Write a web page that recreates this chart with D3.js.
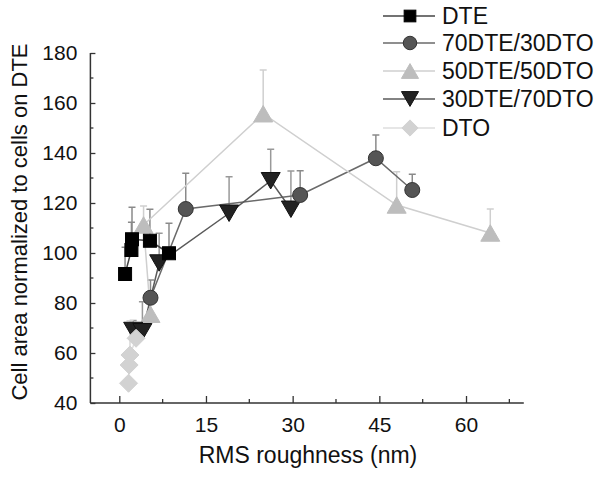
<!DOCTYPE html>
<html><head><meta charset="utf-8">
<script src="https://cdn.jsdelivr.net/npm/d3@7"></script>
<style>body{margin:0;background:#fff}svg{display:block}text{font-family:"Liberation Sans",Arial,sans-serif}</style>
</head><body><div id="c"></div>
<script>
// Data (x = RMS roughness nm, y = normalized cell area, e = top of error bar)
const seriesNames = ["DTE","70DTE/30DTO","50DTE/50DTO","30DTE/70DTO","DTO"];
const dteX = [1.0, 2.1, 2.2, 5.3, 8.6];
const dteY = [91.6, 101.2, 105.5, 104.9, 99.9];
const dteE = [102.3, 112.3, 118.3, 117.5, 111.9];
const s70X = [5.4, 11.5, 31.3, 44.4, 50.7];
const s70Y = [82.1, 117.6, 123.2, 137.9, 125.2];
const s70E = [89.2, 131.9, 132.9, 147.2, 131.5];
const s50X = [5.4, 4.2, 24.9, 48.0, 64.2];
const s50Y = [75.5, 111.2, 155.7, 119.2, 108.0];
const s50E = [80.5, 118.8, 173.2, 132.5, 117.6];
const s30X = [2.4, 4.0, 6.9, 19.0, 26.2, 29.7];
const s30Y = [69.0, 68.5, 96.0, 115.9, 128.9, 117.5];
const s30E = [73.0, 80.5, 107.9, 130.5, 141.5, 132.8];
const dtoX = [1.6, 1.7, 1.85, 2.9];
const dtoY = [47.9, 55.2, 59.2, 65.9];
const dtoE = [50.0, 57.5, 72.9, 68.0];
const xTicks = [0, 15, 30, 45, 60];
const yTicks = [40, 60, 80, 100, 120, 140, 160, 180];

const W = 600, H = 477;
const svg = d3.select("#c").append("svg").attr("width", W).attr("height", H);
const x = d3.scaleLinear().domain([-5, 70]).range([90.4, 523.8]);
const y = d3.scaleLinear().domain([40, 180]).range([403, 53]);

const styles = [
  {shape:"square", fill:"#000", stroke:"#000", line:"#444", err:"#8a8a8a", size:13},
  {shape:"circle", fill:"#555", stroke:"#333", line:"#6a6a6a", err:"#8a8a8a", size:15},
  {shape:"up", fill:"#bdbdbd", stroke:"#bdbdbd", line:"#cfcfcf", err:"#cfcfcf", size:19},
  {shape:"down", fill:"#222", stroke:"#111", line:"#5a5a5a", err:"#999", size:19},
  {shape:"diamond", fill:"#d2d2d2", stroke:"#d2d2d2", line:"#dedede", err:"#d8d8d8", size:18}
];
const data = [
  [dteX, dteY, dteE], [s70X, s70Y, s70E], [s50X, s50Y, s50E], [s30X, s30Y, s30E], [dtoX, dtoY, dtoE]
].map(([xs, ys, es]) => xs.map((v, i) => ({x: v, y: ys[i], e: es[i]})));

function marker(g, st, cx, cy, scale) {
  const s = st.size * (scale || 1), h = s / 2;
  let el;
  if (st.shape === "square") el = g.append("rect").attr("x", cx - h).attr("y", cy - h).attr("width", s).attr("height", s);
  else if (st.shape === "circle") el = g.append("circle").attr("cx", cx).attr("cy", cy).attr("r", h);
  else if (st.shape === "up") { const t = s * 0.866 / 2; el = g.append("path").attr("d", `M${cx},${cy - t}L${cx + h},${cy + t}L${cx - h},${cy + t}Z`); }
  else if (st.shape === "down") { const t = s * 0.866 / 2; el = g.append("path").attr("d", `M${cx},${cy + t}L${cx + h},${cy - t}L${cx - h},${cy - t}Z`); }
  else el = g.append("path").attr("d", `M${cx},${cy - h}L${cx + h},${cy}L${cx},${cy + h}L${cx - h},${cy}Z`);
  el.attr("fill", st.fill).attr("stroke", st.stroke).attr("stroke-width", 1);
}

// axes
const axCol = "#333";
const xAxis = d3.axisBottom(x).tickValues(xTicks).tickSize(-7).tickPadding(14).tickFormat(d3.format("d"));
const gx = svg.append("g").attr("transform", `translate(0,${y(40)})`).call(xAxis);
gx.append("g").selectAll("line").data([7.5, 22.5, 37.5, 52.5, 67.5]).join("line")
  .attr("x1", d => x(d)).attr("x2", d => x(d)).attr("y1", 0).attr("y2", -4).attr("stroke", axCol).attr("stroke-width", 1.3);
const yAxis = d3.axisLeft(y).tickValues(yTicks).tickSize(-5).tickPadding(13);
const gy = svg.append("g").attr("transform", `translate(${x(-5)},0)`).call(yAxis);
gy.append("g").selectAll("line").data(d3.range(50, 180, 20)).join("line")
  .attr("x1", 0).attr("x2", 3).attr("y1", d => y(d)).attr("y2", d => y(d)).attr("stroke", axCol).attr("stroke-width", 1.3);
[gx, gy].forEach(g => {
  g.select(".domain").attr("stroke", axCol).attr("stroke-width", 1.5);
  g.selectAll(".tick line").attr("stroke", axCol).attr("stroke-width", 1.3);
  g.selectAll(".tick text").attr("font-size", 21).attr("fill", "#111").style("font-family", '"Liberation Sans",Arial,sans-serif');
});
gx.select(".domain").attr("d", `M${x(-5)},0H${x(70)}`);
gy.select(".domain").attr("d", `M0,${y(40)}V${y(180)}`);

svg.append("text").attr("x", 308).attr("y", 463).attr("text-anchor", "middle")
  .attr("font-size", 23).attr("fill", "#111").text("RMS roughness (nm)");
svg.append("text").attr("transform", `translate(27,${222}) rotate(-90)`).attr("text-anchor", "middle")
  .attr("font-size", 22).attr("fill", "#111").text("Cell area normalized to cells on DTE");

// error bars, lines, markers
const plot = svg.append("g");
data.forEach((pts, i) => {
  const st = styles[i];
  const g = plot.append("g");
  pts.forEach(p => {
    g.append("line").attr("x1", x(p.x)).attr("x2", x(p.x)).attr("y1", y(p.y)).attr("y2", y(p.e)).attr("stroke", st.err).attr("stroke-width", 1.5);
    g.append("line").attr("x1", x(p.x) - 3.5).attr("x2", x(p.x) + 3.5).attr("y1", y(p.e)).attr("y2", y(p.e)).attr("stroke", st.err).attr("stroke-width", 1.5);
  });
});
data.forEach((pts, i) => {
  const st = styles[i];
  plot.append("path").datum(pts).attr("fill", "none").attr("stroke", st.line).attr("stroke-width", 1.5)
    .attr("d", d3.line().x(d => x(d.x)).y(d => y(d.y)));
});
[2, 3, 1, 4, 0].forEach(i => {
  const st = styles[i];
  const g = plot.append("g");
  data[i].forEach(p => marker(g, st, x(p.x), y(p.y)));
});

// legend
const leg = svg.append("g");
const rowY = [16, 43, 71, 99, 128];
seriesNames.forEach((n, i) => {
  const st = styles[i];
  leg.append("line").attr("x1", 383).attr("x2", 435).attr("y1", rowY[i]).attr("y2", rowY[i]).attr("stroke", st.line).attr("stroke-width", 1.5);
  marker(leg, st, 410, rowY[i], 0.9);
  leg.append("text").attr("x", 442).attr("y", rowY[i]).attr("dy", "0.36em").attr("font-size", 23).attr("fill", "#111").text(n);
});
</script></body></html>
